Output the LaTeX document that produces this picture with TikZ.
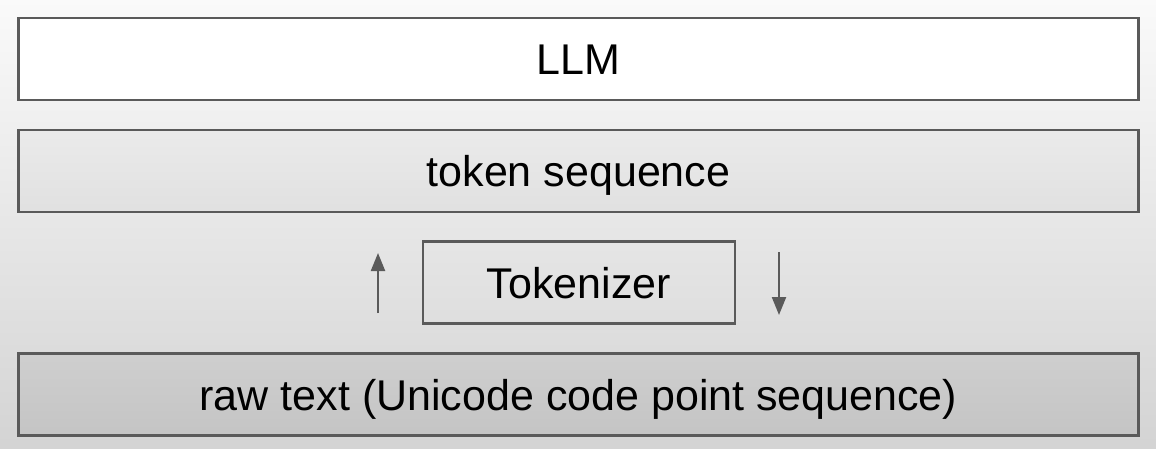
\documentclass[tikz,border=0pt]{standalone}
\usepackage{fontspec}
\setmainfont{Liberation Sans}
\usetikzlibrary{arrows.meta}
\definecolor{edgegray}{HTML}{5A5A5A}
\tikzset{layer/.style={draw=edgegray, line width=2.4pt, minimum width=1120pt,
    minimum height=82pt, inner sep=0pt, text height=31pt, text depth=0pt,
    font=\fontsize{43}{50}\selectfont},
  tokbox/.style={layer, minimum width=312pt, fill=none},
  flow/.style={draw=edgegray, line width=2.2pt, -{Triangle[length=18pt,width=14pt]}}}

\begin{document}
\begin{tikzpicture}[x=1pt,y=-1pt]
  \shade[top color=white!98!black, bottom color=white!83!black] (0,0) rectangle (1156,448);
  \useasboundingbox (0,0) rectangle (1156,448);
  \node[layer, fill=white] (llm) at (578.5,59) {LLM};
  \node[layer, top color=white!92!black, bottom color=white!88!black] (tokens) at (578.5,171) {token sequence};
  \node[tokbox] (tokenizer) at (579,282.5) {Tokenizer};
  \node[layer, top color=white!81!black, bottom color=white!77!black] (raw) at (578.5,394.5) {raw text (Unicode code point sequence)};
  % encode / decode
  \coordinate (enc0) at (378,313); \coordinate (enc1) at (378,253);
  \coordinate (dec0) at (779,252); \coordinate (dec1) at (779,315);
  \draw[flow] (enc0) -- (enc1);
  \draw[flow] (dec0) -- (dec1);
\end{tikzpicture}
\end{document}
